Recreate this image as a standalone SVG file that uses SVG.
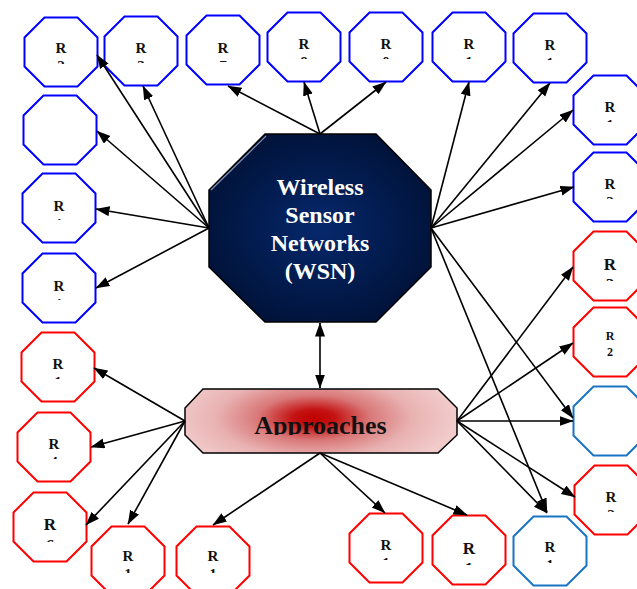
<svg xmlns="http://www.w3.org/2000/svg" xmlns:xlink="http://www.w3.org/1999/xlink" width="637" height="589" viewBox="0 0 637 589">
<style>
.b{stroke:#0000ff}
.r{stroke:#ff0000}
.s{stroke:#1a74c4}
.o{fill:#ffffff;stroke-width:2}
.l{font-family:"Liberation Serif","Times New Roman",serif;font-weight:bold;font-size:15px;fill:#111;text-anchor:middle}
.big{font-size:17px}
.sm{font-size:12px}
.e line{stroke:#000;stroke-width:1.6;marker-end:url(#ah)}
.w{font-family:"Liberation Serif","Times New Roman",serif;font-weight:bold;font-size:24px;fill:#ffffff;text-anchor:middle}
.a{font-family:"Liberation Serif","Times New Roman",serif;font-weight:bold;font-size:26px;fill:#111;text-anchor:middle}
</style>
<defs>
<polygon id="oct" points="-16.5,-34.5 16.5,-34.5 36.5,-14.5 36.5,14.5 16.5,34.5 -16.5,34.5 -36.5,14.5 -36.5,-14.5"/>
<clipPath id="lc" clipPathUnits="userSpaceOnUse"><rect x="-40" y="-40" width="80" height="52"/></clipPath>
<clipPath id="lb" clipPathUnits="userSpaceOnUse"><rect x="-40" y="-40" width="80" height="55"/></clipPath>
<clipPath id="ac" clipPathUnits="userSpaceOnUse"><rect x="185" y="389" width="272" height="46"/></clipPath>
<marker id="ah" markerUnits="userSpaceOnUse" markerWidth="15" markerHeight="11" refX="13.5" refY="5" orient="auto-start-reverse" viewBox="0 0 15 11">
<path d="M0,0 L14,5 L0,10 z" fill="#000"/>
</marker>
<radialGradient id="wg" cx="0.5" cy="0.5" r="0.55">
<stop offset="0" stop-color="#06286c"/>
<stop offset="1" stop-color="#001238"/>
</radialGradient>
<radialGradient id="ag" gradientUnits="userSpaceOnUse" cx="314" cy="418" r="140" gradientTransform="translate(0,418) scale(1,0.4) translate(0,-418)">
<stop offset="0" stop-color="#c00000"/>
<stop offset="0.15" stop-color="#c41212"/>
<stop offset="0.4" stop-color="#d97878"/>
<stop offset="0.7" stop-color="#e9b2b2"/>
<stop offset="1" stop-color="#f1caca"/>
</radialGradient>
</defs>

<g id="wsn">
<polygon points="265,134 376,134 431,190 431,267 376,322 265,322 209,267 209,190" fill="url(#wg)" stroke="#000" stroke-width="1.5"/>
<line x1="211" y1="190" x2="266" y2="136" stroke="#8090b4" stroke-width="1.2"/>
<text class="w" x="320" y="195">Wireless</text>
<text class="w" x="320" y="223">Sensor</text>
<text class="w" x="320" y="251">Networks</text>
<text class="w" x="320" y="279">(WSN)</text>
</g>

<g id="approaches">
<polygon points="203,389 438,389 457,408 457,435 438,453 203,453 185,435 185,408" fill="url(#ag)" stroke="#000" stroke-width="1.5"/>
<text class="a" x="320.5" y="434" clip-path="url(#ac)">Approaches</text>
</g>

<g id="n1" transform="translate(61,52)"><use xlink:href="#oct" class="o b"/><g clip-path="url(#lc)"><text class="l" y="1">R</text><text class="l" y="19">2</text></g></g>
<g id="n2" transform="translate(141,51)"><use xlink:href="#oct" class="o b"/><g clip-path="url(#lc)"><text class="l" y="2">R</text><text class="l" y="20">3</text></g></g>
<g id="n3" transform="translate(223,50)"><use xlink:href="#oct" class="o b"/><g clip-path="url(#lc)"><text class="l" y="3">R</text><text class="l" y="21">7</text></g></g>
<g id="n4" transform="translate(304,47)"><use xlink:href="#oct" class="o b"/><g clip-path="url(#lc)"><text class="l" y="2">R</text><text class="l" y="20">8</text></g></g>
<g id="n5" transform="translate(386,47)"><use xlink:href="#oct" class="o b"/><g clip-path="url(#lc)"><text class="l" y="2">R</text><text class="l" y="20">0</text></g></g>
<g id="n6" transform="translate(469,47)"><use xlink:href="#oct" class="o b"/><g clip-path="url(#lc)"><text class="l" y="2">R</text><text class="l" y="20">1</text></g></g>
<g id="n7" transform="translate(550,48)"><use xlink:href="#oct" class="o b"/><g clip-path="url(#lc)"><text class="l" y="2">R</text><text class="l" y="20">1</text></g></g>
<g id="n8" transform="translate(610,110)"><use xlink:href="#oct" class="o b"/><g clip-path="url(#lc)"><text class="l" y="2">R</text><text class="l" y="20">1</text></g></g>
<g id="n9" transform="translate(610,187)"><use xlink:href="#oct" class="o b"/><g clip-path="url(#lc)"><text class="l" y="2">R</text><text class="l" y="20">2</text></g></g>
<g id="n10" transform="translate(610,266)"><use xlink:href="#oct" class="o r"/><g clip-path="url(#lb)"><text class="l big" y="4">R</text><text class="l big" y="24">2</text></g></g>
<g id="n11" transform="translate(610,342)"><use xlink:href="#oct" class="o r"/><text class="l sm" y="-2">R</text><text class="l sm" y="14">2</text></g>
<g id="n12" transform="translate(610,421)"><use xlink:href="#oct" class="o s"/></g>
<g id="n13" transform="translate(611,500)"><use xlink:href="#oct" class="o r"/><g clip-path="url(#lc)"><text class="l" y="2">R</text><text class="l" y="20">2</text></g></g>
<g id="n14" transform="translate(550,551)"><use xlink:href="#oct" class="o s"/><g clip-path="url(#lc)"><text class="l" y="1">R</text><text class="l" y="19">1</text></g></g>
<g id="n15" transform="translate(469,550)"><use xlink:href="#oct" class="o r"/><g clip-path="url(#lb)"><text class="l big" y="4">R</text><text class="l big" y="24">1</text></g></g>
<g id="n16" transform="translate(386,548)"><use xlink:href="#oct" class="o r"/><g clip-path="url(#lc)"><text class="l" y="2">R</text><text class="l" y="20">1</text></g></g>
<g id="n17" transform="translate(213,561)"><use xlink:href="#oct" class="o r"/><g clip-path="url(#lc)"><text class="l" y="0">R</text><text class="l" y="18">1</text></g></g>
<g id="n18" transform="translate(128,561)"><use xlink:href="#oct" class="o r"/><g clip-path="url(#lc)"><text class="l" y="0">R</text><text class="l" y="18">1</text></g></g>
<g id="n19" transform="translate(50,527)"><use xlink:href="#oct" class="o r"/><g clip-path="url(#lb)"><text class="l big" y="3">R</text><text class="l big" y="24">6</text></g></g>
<g id="n20" transform="translate(54,447)"><use xlink:href="#oct" class="o r"/><g clip-path="url(#lc)"><text class="l" y="2">R</text><text class="l" y="20">4</text></g></g>
<g id="n21" transform="translate(58,367)"><use xlink:href="#oct" class="o r"/><g clip-path="url(#lc)"><text class="l" y="2">R</text><text class="l" y="20">1</text></g></g>
<g id="n22" transform="translate(59,288)"><use xlink:href="#oct" class="o b"/><g clip-path="url(#lc)"><text class="l" y="3">R</text><text class="l" y="21">1</text></g></g>
<g id="n23" transform="translate(59,208)"><use xlink:href="#oct" class="o b"/><g clip-path="url(#lc)"><text class="l" y="3">R</text><text class="l" y="21">1</text></g></g>
<g id="n24" transform="translate(60,130)"><use xlink:href="#oct" class="o b"/></g>

<g id="edges" class="e">
<line x1="209" y1="228" x2="97" y2="55"/>
<line x1="209" y1="228" x2="143" y2="86"/>
<line x1="209" y1="228" x2="97" y2="131"/>
<line x1="209" y1="228" x2="96" y2="209"/>
<line x1="209" y1="228" x2="96" y2="288"/>
<line x1="320" y1="134" x2="228" y2="86"/>
<line x1="320" y1="134" x2="304" y2="82"/>
<line x1="320" y1="134" x2="386" y2="82"/>
<line x1="431" y1="228" x2="469" y2="82"/>
<line x1="431" y1="228" x2="550" y2="83"/>
<line x1="431" y1="228" x2="573" y2="110"/>
<line x1="431" y1="228" x2="574" y2="187"/>
<line x1="431" y1="228" x2="573" y2="418"/>
<line x1="431" y1="228" x2="547" y2="512"/>
<line x1="320" y1="323" x2="320" y2="388" style="marker-start:url(#ah)"/>
<line x1="457" y1="421" x2="573" y2="267"/>
<line x1="457" y1="421" x2="573" y2="343"/>
<line x1="457" y1="421" x2="573" y2="421"/>
<line x1="457" y1="421" x2="575" y2="497"/>
<line x1="457" y1="421" x2="547" y2="513"/>
<line x1="320" y1="453" x2="213" y2="525"/>
<line x1="320" y1="453" x2="385" y2="513"/>
<line x1="320" y1="453" x2="467" y2="515"/>
<line x1="185" y1="421" x2="94" y2="368"/>
<line x1="185" y1="421" x2="91" y2="447"/>
<line x1="185" y1="421" x2="86" y2="525"/>
<line x1="185" y1="421" x2="128" y2="524"/>
</g>
</svg>
